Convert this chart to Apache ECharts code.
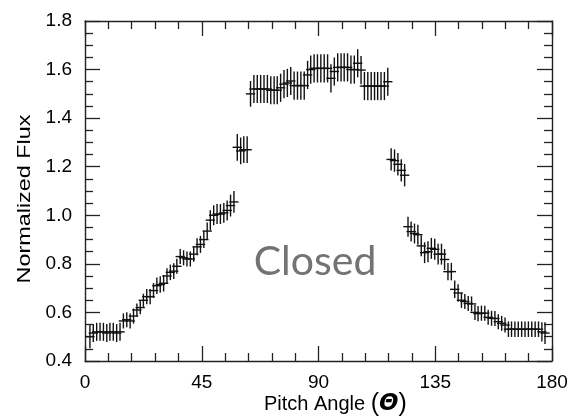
<!DOCTYPE html>
<html>
<head>
<meta charset="utf-8">
<script src="https://cdn.jsdelivr.net/npm/echarts@6/dist/echarts.min.js"></script>
<style>
  html, body { margin: 0; padding: 0; background: #fff; }
  #chart { width: 572px; height: 420px; }
</style>
</head>
<body>
<div id="chart"></div>
<script>
// Pitch-angle bin centres (degrees)
const angles = [
  1.9, 3.2, 4.5, 5.8, 7.1, 8.4, 9.6, 10.9, 12.2, 13.5,
  14.8, 16.1, 17.4, 18.7, 20.0, 21.3, 22.5, 23.8, 25.1, 26.4,
  27.7, 29.0, 30.3, 31.6, 32.9, 34.2, 35.4, 36.7, 38.0, 39.3,
  40.6, 41.9, 43.2, 44.5, 45.8, 47.1, 48.3, 49.6, 50.9, 52.2,
  53.5, 54.8, 56.1, 57.4, 58.7, 60.0, 61.2, 62.5, 63.8, 65.1,
  66.4, 67.7, 69.0, 70.3, 71.6, 72.9, 74.1, 75.4, 76.7, 78.0,
  79.3, 80.6, 81.9, 83.2, 84.5, 85.8, 87.0, 88.3, 89.6, 90.9,
  92.2, 93.5, 94.8, 96.1, 97.4, 98.7, 99.9, 101.2, 102.5, 103.8,
  105.1, 106.4, 107.7, 109.0, 110.3, 111.6, 112.8, 114.1, 115.4, 116.7,
  118.0, 119.3, 120.6, 121.9, 123.2, 124.5, 125.7, 127.0, 128.3, 129.6,
  130.9, 132.2, 133.5, 134.8, 136.1, 137.4, 138.6, 139.9, 141.2, 142.5,
  143.8, 145.1, 146.4, 147.7, 149.0, 150.3, 151.5, 152.8, 154.1, 155.4,
  156.7, 158.0, 159.3, 160.6, 161.9, 163.2, 164.4, 165.7, 167.0, 168.3,
  169.6, 170.9, 172.2, 173.5, 174.8, 176.1, 177.3
];

// Normalized flux in each bin
const flux = [
  0.50, 0.515, 0.52, 0.52, 0.52, 0.515, 0.52, 0.52, 0.515, 0.52,
  0.565, 0.57, 0.565, 0.585, 0.61, 0.62, 0.65, 0.665, 0.665, 0.69,
  0.71, 0.715, 0.72, 0.75, 0.765, 0.77, 0.79, 0.83, 0.825, 0.82,
  0.82, 0.84, 0.87, 0.88, 0.90, 0.935, 0.98, 1.00, 1.005, 1.005,
  1.01, 1.02, 1.04, 1.055, 1.28, 1.265, 1.27, 1.27, 1.50, 1.52,
  1.52, 1.52, 1.52, 1.52, 1.515, 1.515, 1.515, 1.525, 1.54, 1.545,
  1.553, 1.534, 1.534, 1.534, 1.534, 1.578, 1.60, 1.605, 1.605, 1.605,
  1.605, 1.605, 1.564, 1.592, 1.609, 1.609, 1.609, 1.609, 1.60, 1.60,
  1.626, 1.598, 1.532, 1.532, 1.532, 1.532, 1.532, 1.532, 1.532, 1.55,
  1.23, 1.225, 1.21, 1.185, 1.165, 0.953, 0.933, 0.925, 0.92, 0.874,
  0.846, 0.85, 0.864, 0.86, 0.84, 0.84, 0.818, 0.768, 0.768, 0.695,
  0.68, 0.65, 0.645, 0.637, 0.635, 0.60, 0.595, 0.597, 0.597, 0.58,
  0.576, 0.575, 0.562, 0.555, 0.548, 0.531, 0.531, 0.531, 0.531, 0.531,
  0.531, 0.531, 0.531, 0.531, 0.531, 0.52, 0.515
];

// One-sigma uncertainty of the flux in each bin
const fluxErr = [
  0.048, 0.037, 0.037, 0.037, 0.037, 0.037, 0.037, 0.037, 0.037, 0.037,
  0.031, 0.031, 0.031, 0.031, 0.027, 0.027, 0.027, 0.031, 0.031, 0.031,
  0.034, 0.034, 0.034, 0.032, 0.032, 0.032, 0.031, 0.031, 0.031, 0.031,
  0.031, 0.031, 0.035, 0.035, 0.035, 0.035, 0.041, 0.041, 0.041, 0.041,
  0.041, 0.041, 0.045, 0.045, 0.055, 0.055, 0.055, 0.055, 0.053, 0.058,
  0.058, 0.058, 0.058, 0.058, 0.058, 0.058, 0.058, 0.058, 0.058, 0.058,
  0.058, 0.058, 0.058, 0.058, 0.058, 0.058, 0.058, 0.058, 0.058, 0.058,
  0.058, 0.058, 0.058, 0.058, 0.058, 0.058, 0.058, 0.058, 0.058, 0.058,
  0.058, 0.058, 0.058, 0.058, 0.058, 0.058, 0.058, 0.058, 0.058, 0.058,
  0.046, 0.046, 0.046, 0.046, 0.046, 0.041, 0.041, 0.041, 0.041, 0.043,
  0.043, 0.043, 0.043, 0.043, 0.043, 0.043, 0.043, 0.036, 0.036, 0.036,
  0.036, 0.031, 0.031, 0.031, 0.031, 0.031, 0.031, 0.031, 0.031, 0.031,
  0.031, 0.031, 0.031, 0.031, 0.031, 0.032, 0.032, 0.032, 0.032, 0.032,
  0.032, 0.032, 0.032, 0.032, 0.032, 0.040, 0.045
];

// Half width of each pitch-angle bin (degrees)
const binHalfWidth = 1.8;

// Axis ranges and tick steps
const xTicks = [0, 45, 90, 135, 180];
const yTicks = [0.4, 0.6, 0.8, 1.0, 1.2, 1.4, 1.6, 1.8];

const points = angles.map((a, i) => [a, flux[i], fluxErr[i]]);

const FONT = '"Liberation Sans", Arial, Helvetica, sans-serif';
const INK = '#111';
const FRAME = '#222';

function frameAxis(show, extra) {
  return Object.assign({
    axisLine: { show: true, onZero: false, lineStyle: { color: FRAME, width: 1.4 } },
    axisTick: { show: true, inside: true, length: 15, lineStyle: { color: FRAME, width: 1.3 } },
    minorTick: { show: true, length: 8, lineStyle: { color: FRAME, width: 1.3 } },
    splitLine: { show: false },
    minorSplitLine: { show: false },
    axisLabel: {
      show: show, color: '#000', fontSize: 19, fontFamily: FONT
    }
  }, extra);
}

const xBase = {
  type: 'value',
  min: xTicks[0],
  max: xTicks[xTicks.length - 1],
  interval: xTicks[1] - xTicks[0]
};
const yBase = {
  type: 'value',
  min: yTicks[0],
  max: yTicks[yTicks.length - 1],
  interval: 0.2
};

const chart = echarts.init(document.getElementById('chart'), null, { renderer: 'canvas' });

chart.setOption({
  animation: false,
  backgroundColor: '#fff',
  grid: { left: 85, top: 21, width: 467, height: 340, containLabel: false },
  xAxis: [
    frameAxis(true, Object.assign({}, xBase, {
      position: 'bottom',
      minorTick: { show: true, splitNumber: 5, length: 8, lineStyle: { color: FRAME, width: 1.3 } },
      axisLabel: { show: true, color: '#000', fontSize: 19, fontFamily: FONT, margin: 12 }
    })),
    frameAxis(false, Object.assign({}, xBase, {
      position: 'top',
      minorTick: { show: true, splitNumber: 5, length: 8, lineStyle: { color: FRAME, width: 1.3 } }
    }))
  ],
  yAxis: [
    frameAxis(true, Object.assign({}, yBase, {
      position: 'left',
      minorTick: { show: true, splitNumber: 4, length: 8, lineStyle: { color: FRAME, width: 1.3 } },
      axisLabel: {
        show: true, color: '#000', fontSize: 19, fontFamily: FONT, margin: 13,
        formatter: v => v.toFixed(1)
      }
    })),
    frameAxis(false, Object.assign({}, yBase, {
      position: 'right',
      minorTick: { show: true, splitNumber: 4, length: 8, lineStyle: { color: FRAME, width: 1.3 } }
    }))
  ],
  graphic: [
    {
      type: 'text',
      x: 25, y: 199,
      rotation: Math.PI / 2,
      scaleX: 1.3,
      style: {
        text: 'Normalized Flux',
        fill: '#000',
        font: '18px ' + FONT,
        align: 'center',
        verticalAlign: 'middle'
      }
    },
    {
      type: 'text',
      x: 264, y: 404,
      style: {
        text: '{a|Pitch Angle }{p|(}{t|Θ}{p|)}',
        fill: '#000',
        align: 'left',
        verticalAlign: 'middle',
        rich: {
          a: { fontSize: 20, fontFamily: FONT, fill: '#000' },
          p: { fontSize: 25, fontFamily: FONT, fill: '#000' },
          t: { fontSize: 23, fontFamily: '"DejaVu Sans", sans-serif', fontStyle: 'italic', fontWeight: 'bold', fill: '#000' }
        }
      }
    },
    {
      type: 'text',
      x: 315, y: 262,
      style: {
        text: 'Closed',
        fill: '#737373',
        font: '400 41px Lato, "Open Sans", sans-serif',
        align: 'center',
        verticalAlign: 'middle'
      }
    }
  ],
  series: [{
    type: 'custom',
    xAxisIndex: 0,
    yAxisIndex: 0,
    data: points,
    renderItem: function (params, api) {
      const x = api.value(0);
      const y = api.value(1);
      const e = api.value(2);
      const l = api.coord([x - binHalfWidth, y]);
      const r = api.coord([x + binHalfWidth, y]);
      const t = api.coord([x, y + e]);
      const b = api.coord([x, y - e]);
      const style = { stroke: INK, lineWidth: 1.4 };
      return {
        type: 'group',
        children: [
          { type: 'line', shape: { x1: l[0], y1: l[1], x2: r[0], y2: r[1] }, style: style },
          { type: 'line', shape: { x1: t[0], y1: t[1], x2: b[0], y2: b[1] }, style: style }
        ]
      };
    }
  }]
});
</script>
</body>
</html>
